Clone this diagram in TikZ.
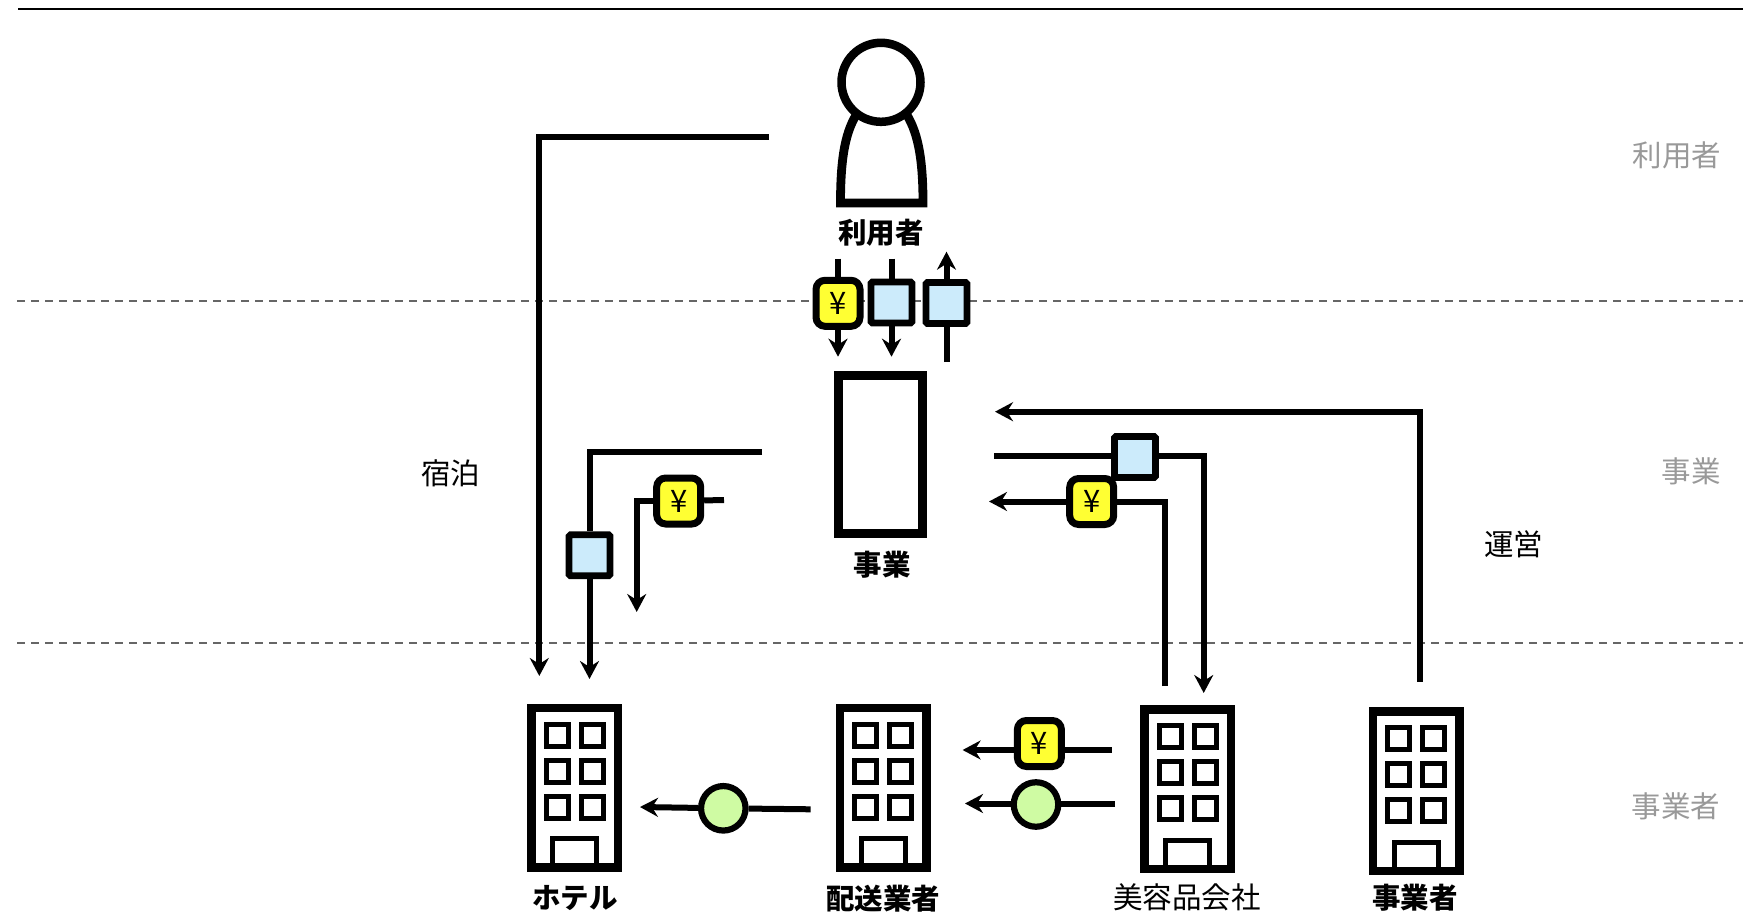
\documentclass[tikz,border=0pt]{standalone}
\usepackage{fontspec}
\setmainfont{Noto Sans CJK JP}
\usetikzlibrary{shapes,positioning,calc,arrows.meta}

\begin{document}
\begin{tikzpicture}[
        x=1pt, y=-1pt,
        every node/.style={font=\fontsize{29.5}{32}\selectfont, inner sep=0pt},
        actor/.style={font=\fontsize{28.5}{32}\selectfont\bfseries},
        tier/.style={text=black!40},
        line/.style={line width=6pt, draw=black},
        flow/.style={line, -{Stealth[length=18pt,width=19pt,inset=6pt]}},
        tierline/.style={line width=2pt, draw=black!60, dash pattern=on 8pt off 6pt},
        yen/.style={rectangle, draw=black, line width=7pt, fill=yenfill, minimum width=44pt, minimum height=46pt, rounded corners=9pt, font=\fontsize{31}{32}\selectfont},
        goods/.style={rectangle, draw=black, line width=6.8pt, fill=goodsfill, minimum size=41pt, rounded corners=1.5pt},
        service/.style={circle, draw=black, line width=6.2pt, fill=servicefill, minimum size=44.5pt},
        frame/.style={rectangle, draw=black, line width=8.5pt, fill=white, minimum width=86.5pt, minimum height=159.5pt},
        pics/office/.style={code={
            \node[frame] (-box) at (0,0) {};
            \foreach \wx in {-17.3,17.3}
                \foreach \wy in {-52.5,-16.5,19.5}
                    \draw[line width=5pt] ($(\wx,\wy)+(-11,-11)$) rectangle ($(\wx,\wy)+(11,11)$);
            \draw[line width=5pt] (-22,79) -- (-22,51) -- (22,51) -- (22,79);
        }}
        ]
        \definecolor{yenfill}{HTML}{FFFF33}
        \definecolor{goodsfill}{HTML}{CCEBFB}
        \definecolor{servicefill}{HTML}{CFFBA3}
        \useasboundingbox (0,0) rectangle (1743,923);

        % Tier rules across the page
        \coordinate (ruleL) at (18,9.5);
        \coordinate (ruleR) at (1743,9.5);
        \coordinate (tierAL) at (17,300.7);
        \coordinate (tierAR) at (1743,300.7);
        \coordinate (tierBL) at (17,642.7);
        \coordinate (tierBR) at (1743,642.7);
        \draw[line width=2pt] (ruleL) -- (ruleR);
        \draw[tierline] (tierAL) -- (tierAR);
        \draw[tierline] (tierBL) -- (tierBR);

        % Person
        \draw[line width=8.8pt, fill=white] (858,112) .. controls (846,130) and (840.5,155) .. (840.5,203) -- (923,203) .. controls (923,155) and (917,130) .. (905,112);
        \node[circle, draw=black, line width=8.5pt, fill=white, minimum size=79pt] (userhead) at (881,82.3) {};
        \node[actor] (userlabel) at (881,232.5) {利用者};

        % Business block
        \node[rectangle, draw=black, line width=8.8pt, minimum width=84pt, minimum height=158pt] (biz) at (880.5,454.5) {};
        \node[actor] (bizlabel) at (882,565) {事業};

        % Offices
        \pic (hotel) at (574.7,787.8) {office};
        \pic (carrier) at (883,787.8) {office};
        \pic (beauty) at (1187.8,789) {office};
        \pic (operator) at (1416,791) {office};
        \node[actor] (hotellabel) at (575,898.5) {ホテル};
        \node[actor] (carrierlabel) at (883,898.5) {配送業者};
        \node (beautylabel) at (1187,897) {美容品会社};
        \node[actor] (operatorlabel) at (1415,897.5) {事業者};

        % Side labels
        \node (staylabel) at (450.5,473.5) {宿泊};
        \node (runlabel) at (1513.5,544) {運営};
        \node[tier] (tierA) at (1677,155) {利用者};
        \node[tier] (tierB) at (1691,471.5) {事業};
        \node[tier] (tierC) at (1676,806) {事業者};

        % Chips on the connectors
        \node[yen] (payup) at (838,303.3) {¥};
        \node[goods] (orderup) at (891.5,302.5) {};
        \node[goods] (backup) at (946.5,303) {};
        \node[goods] (bluestay) at (589.5,555.3) {};
        \node[yen] (paystay) at (678.7,501) {¥};
        \node[goods] (bluebeauty) at (1135,457) {};
        \node[yen] (paybeauty) at (1091.7,501.5) {¥};
        \node[yen] (paycarrier) at (1039.4,743.5) {¥};
        \node[service] (shipbeauty) at (1036,804.5) {};
        \node[service] (shiphotel) at (723.3,808.3) {};

        % Free ends of the connectors
        \coordinate (payin) at (838,258.7);
        \coordinate (payout) at (838,356.7);
        \coordinate (orderin) at (891.5,258.7);
        \coordinate (orderout) at (891.5,356.7);
        \coordinate (backin) at (946.5,362);
        \coordinate (backout) at (946.5,251.7);
        \coordinate (userstay) at (769,137);
        \coordinate (userstayend) at (539.3,676);
        \coordinate (bizstay) at (762,451.7);
        \coordinate (stayend) at (589.5,679);
        \coordinate (paystayin) at (724,500);
        \coordinate (paystayend) at (636.7,612);
        \coordinate (opstart) at (1420,681.5);
        \coordinate (opend) at (995,411.7);
        \coordinate (bizout) at (994.3,455.5);
        \coordinate (beautyend) at (1203.7,693);
        \coordinate (beautystart) at (1165.3,686);
        \coordinate (payend) at (989,501.5);
        \coordinate (carrierin) at (1111.6,750);
        \coordinate (carrierend) at (962.6,750);
        \coordinate (shipin) at (1115,803.5);
        \coordinate (shipend) at (965,803.5);
        \coordinate (hotelin) at (810.7,809.3);
        \coordinate (hotelend) at (640,807);

        % Between user and business
        \draw[line] (payin) -- (payup);
        \draw[flow] (payup) -- (payout);
        \draw[line] (orderin) -- (orderup);
        \draw[flow] (orderup) -- (orderout);
        \draw[line] (backin) -- (backup);
        \draw[flow] (backup) -- (backout);

        % Left side, down to the hotel
        \draw[flow] (userstay) -| (userstayend);
        \draw[line] (bizstay) -| (bluestay);
        \draw[flow] (bluestay) -- (stayend);
        \draw[line] (paystayin) -- (paystay);
        \draw[flow] (paystay) -| (paystayend);

        % Right side
        \draw[flow] (opstart) |- (opend);
        \draw[line] (bizout) -- (bizout -| bluebeauty.west);
        \draw[flow] (bizout -| bluebeauty.east) -| (beautyend);
        \draw[line] (beautystart) |- (paybeauty);
        \draw[flow] (paybeauty) -- (payend);

        % Bottom row
        \draw[line] (carrierin) -- (carrierin -| paycarrier.east);
        \draw[flow] (carrierend -| paycarrier.west) -- (carrierend);
        \draw[line] (shipin) -- (shipin -| shipbeauty.east);
        \draw[flow] (shipend -| shipbeauty.west) -- (shipend);
        \draw[line] (hotelin) -- (shiphotel);
        \draw[flow] (shiphotel) -- (hotelend);

    \end{tikzpicture}
\end{document}
